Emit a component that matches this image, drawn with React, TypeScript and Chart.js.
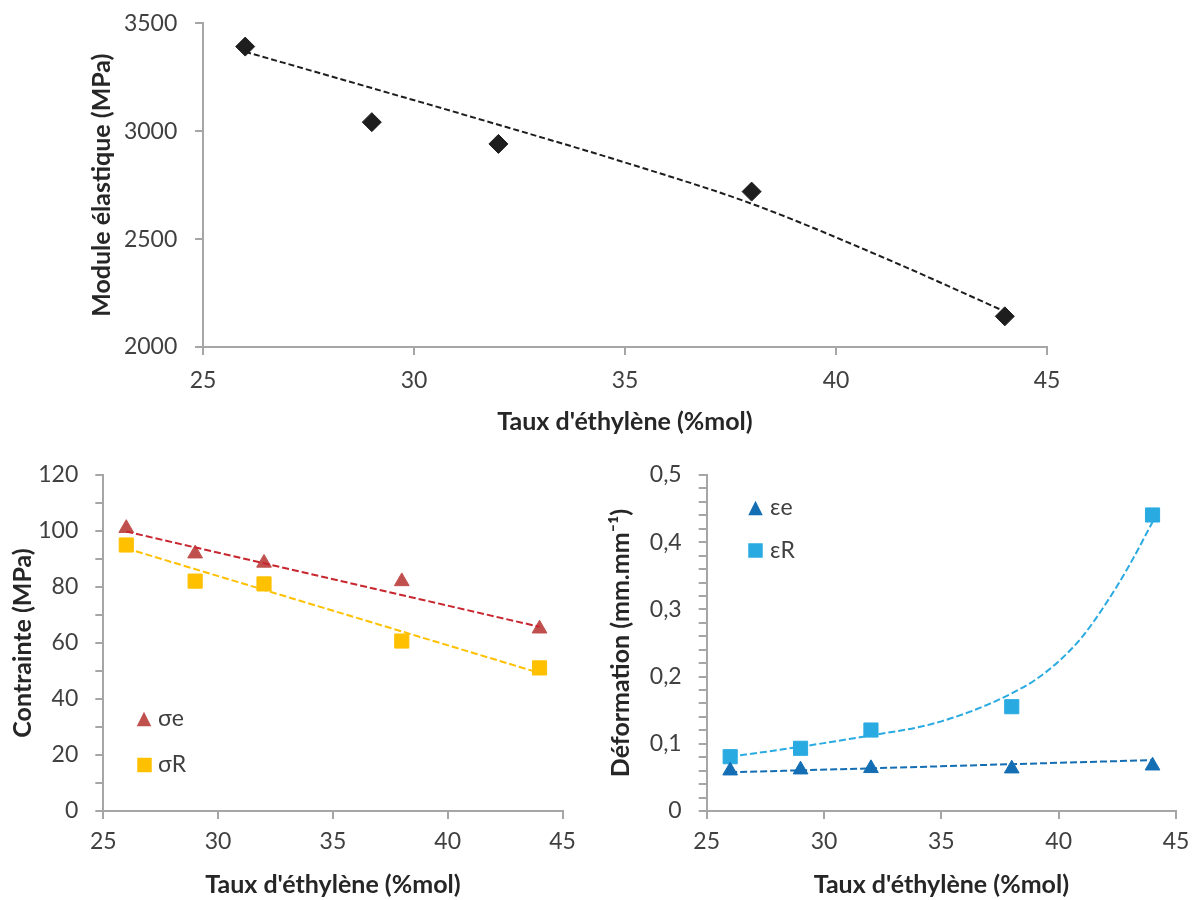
import React, { useEffect, useRef } from 'react';
import { Chart, registerables } from 'chart.js';

Chart.register(...registerables);

const FONT = 'Lato, "Open Sans", sans-serif';
const AXIS = '#A6A6A6';
const TICK_COLOR = '#404040';
const TITLE_COLOR = '#262626';
const TITLE_SIZE = 25;
const TICK_SIZE = 23;

// ---------- Data ----------
const ethylene = [26, 29, 32, 38, 44];
const xTicksLabel = "Taux d'éthylène (%mol)";

// Top chart: Module élastique
const moduleValues = [3392, 3042, 2941, 2720, 2142];
const moduleTrendX = [26, 29, 32, 35, 38, 41, 44];
const moduleTrendY = [3368, 3200, 3030, 2855, 2664, 2425, 2165];

// Bottom-left: Contrainte
const sigmaE = [101, 91.9, 88.6, 82, 65.1];
const sigmaR = [95, 82.1, 81.1, 60.7, 51.1];
const sigmaTrendX = [26, 44];
const sigmaETrend = [99.8, 65.8];
const sigmaRTrend = [93.8, 49.3];

// Bottom-right: Déformation
const epsE = [0.06, 0.0615, 0.0635, 0.063, 0.0674];
const epsR = [0.0808, 0.0933, 0.1205, 0.1552, 0.4405];
const epsETrendX = [26, 32, 38, 44];
const epsETrend = [0.0576, 0.0635, 0.0697, 0.0757];
const epsRTrendX = [26, 28, 30, 32, 34, 35, 36, 37, 38, 39, 40, 41, 42, 43, 44];
const epsRTrend = [0.0808, 0.0905, 0.101, 0.1125, 0.1245, 0.1334, 0.1449, 0.1587, 0.1751, 0.1951, 0.2227, 0.259, 0.308, 0.365, 0.43];

const pts = (xs: number[], ys: number[]) => xs.map((x, i) => ({ x, y: ys[i] }));

// ---------- Helpers ----------
function xAxis(height: number, tickPad: number, titlePadBottom: number) {
  return {
    type: 'linear',
    position: 'bottom',
    min: 25,
    max: 45,
    ticks: {
      stepSize: 5,
      padding: tickPad,
      color: TICK_COLOR,
      font: { family: FONT, size: TICK_SIZE },
      maxRotation: 0,
      autoSkip: false,
    },
    grid: { drawOnChartArea: false, drawTicks: true, tickLength: 8, color: AXIS, lineWidth: 2 },
    border: { display: true, color: AXIS, width: 2 },
    title: {
      display: true,
      text: xTicksLabel,
      color: TITLE_COLOR,
      font: { family: FONT, size: TITLE_SIZE, weight: 'bold' },
      padding: { top: 0, bottom: titlePadBottom },
    },
    afterFit: (s: any) => {
      s.height = height;
      s.paddingLeft = 0;
      s.paddingRight = 0;
      s.paddingTop = 0;
      s.paddingBottom = 0;
    },
  };
}

function yAxis(
  width: number,
  min: number,
  max: number,
  step: number,
  tickPad: number,
  title: string,
  titlePadTop: number,
  cb: (v: number) => string
) {
  return {
    type: 'linear',
    position: 'left',
    min,
    max,
    ticks: {
      stepSize: step,
      padding: tickPad,
      color: TICK_COLOR,
      font: { family: FONT, size: TICK_SIZE },
      autoSkip: false,
      callback: (v: any) => cb(Number(v)),
    },
    grid: { drawOnChartArea: false, drawTicks: true, tickLength: 8, color: AXIS, lineWidth: 2 },
    border: { display: true, color: AXIS, width: 2 },
    title: {
      display: true,
      text: title,
      color: TITLE_COLOR,
      font: { family: FONT, size: TITLE_SIZE, weight: 'bold' },
      padding: { top: titlePadTop, bottom: 0 },
    },
    afterFit: (s: any) => {
      s.width = width;
      s.paddingLeft = 0;
      s.paddingRight = 0;
      s.paddingTop = 0;
      s.paddingBottom = 0;
    },
  };
}

type LegendItem = { label: string; shape: 'triangle' | 'square'; color: string; cx: number; cy: number; size: number; tx: number };

function legendPlugin(items: LegendItem[]) {
  return {
    id: 'customLegend',
    afterDraw(chart: any) {
      const ctx = chart.ctx as CanvasRenderingContext2D;
      ctx.save();
      items.forEach((it) => {
        ctx.fillStyle = it.color;
        ctx.beginPath();
        const h = it.size / 2;
        if (it.shape === 'triangle') {
          ctx.moveTo(it.cx, it.cy - h);
          ctx.lineTo(it.cx + h, it.cy + h);
          ctx.lineTo(it.cx - h, it.cy + h);
          ctx.closePath();
        } else {
          ctx.rect(it.cx - h, it.cy - h, it.size, it.size);
        }
        ctx.fill();
        ctx.fillStyle = TICK_COLOR;
        ctx.font = `${TICK_SIZE}px ${FONT}`;
        ctx.textAlign = 'left';
        ctx.textBaseline = 'middle';
        ctx.fillText(it.label, it.tx, it.cy);
      });
      ctx.restore();
    },
  };
}

function markerSet(label: string, ys: number[], color: string, style: string, radius: number) {
  return {
    label,
    data: pts(ethylene, ys),
    showLine: false,
    pointStyle: style,
    pointRadius: radius,
    pointHoverRadius: radius,
    backgroundColor: color,
    borderColor: color,
    pointBorderWidth: 1,
    order: 2,
  };
}

function trendSet(xs: number[], ys: number[], color: string, dash: number[], curved: boolean) {
  return {
    label: 'trend',
    data: pts(xs, ys),
    showLine: true,
    pointRadius: 0,
    borderColor: color,
    borderWidth: 2,
    borderDash: dash,
    cubicInterpolationMode: curved ? 'monotone' : 'default',
    fill: false,
    order: 1,
  };
}

function ChartCanvas({ width, height, left, top, make }: { width: number; height: number; left: number; top: number; make: () => any }) {
  const ref = useRef<HTMLCanvasElement | null>(null);
  useEffect(() => {
    if (!ref.current) return;
    const chart = new Chart(ref.current, make());
    return () => chart.destroy();
  }, []);
  return (
    <canvas
      ref={ref}
      width={width}
      height={height}
      style={{ position: 'absolute', left, top, width, height }}
    />
  );
}

const baseOptions = {
  responsive: false,
  animation: false,
  plugins: { legend: { display: false }, tooltip: { enabled: false }, title: { display: false } },
};

function makeTop() {
  return {
    type: 'scatter',
    data: {
      datasets: [
        markerSet('Module', moduleValues, '#1E1E1E', 'rectRot', 9.5),
        trendSet(moduleTrendX, moduleTrendY, '#1E1E1E', [6, 3], true),
      ],
    },
    options: {
      ...baseOptions,
      layout: { padding: { left: 0, top: 23.3, right: 150, bottom: 0 } },
      scales: {
        x: xAxis(103, 12.2, 13),
        y: yAxis(203, 2000, 3500, 500, 17.7, 'Module élastique (MPa)', 87, (v) => String(v)),
      },
    },
  };
}

function makeLeft() {
  return {
    type: 'scatter',
    data: {
      datasets: [
        markerSet('σe', sigmaE, '#C0504D', 'triangle', 8.5),
        markerSet('σR', sigmaR, '#FFC000', 'rect', 10),
        trendSet(sigmaTrendX, sigmaETrend, '#C8262F', [7, 3], false),
        trendSet(sigmaTrendX, sigmaRTrend, '#FFC000', [7, 3], false),
      ],
    },
    options: {
      ...baseOptions,
      layout: { padding: { left: 0, top: 25, right: 37.5, bottom: 0 } },
      scales: {
        x: xAxis(89, 9.2, 0),
        y: yAxis(103.3, 0, 120, 10, 17, 'Contrainte (MPa)', 8, (v) => (Math.round(v) % 20 === 0 ? String(Math.round(v)) : '')),
      },
    },
    plugins: [
      legendPlugin([
        { label: 'σe', shape: 'triangle', color: '#C0504D', cx: 144, cy: 269, size: 14.5, tx: 158 },
        { label: 'σR', shape: 'square', color: '#FFC000', cx: 144.5, cy: 315, size: 14.5, tx: 158 },
      ]),
    ],
  };
}

function makeRight() {
  return {
    type: 'scatter',
    data: {
      datasets: [
        markerSet('εe', epsE, '#146EB4', 'triangle', 8.5),
        markerSet('εR', epsR, '#29ABE2', 'rect', 10),
        trendSet(epsETrendX, epsETrend, '#146EB4', [7, 3], true),
        trendSet(epsRTrendX, epsRTrend, '#29ABE2', [7, 3], true),
      ],
    },
    options: {
      ...baseOptions,
      layout: { padding: { left: 0, top: 25, right: 21, bottom: 0 } },
      scales: {
        x: xAxis(89, 9.2, 0),
        y: yAxis(106.7, 0, 0.5, 0.02, 17, 'Déformation (mm.mm⁻¹)', 6, (v) => {
          const k = Math.round(v * 100);
          if (k % 10 !== 0) return '';
          return k === 0 ? '0' : (k / 100).toFixed(1).replace('.', ',');
        }),
      },
    },
    plugins: [
      legendPlugin([
        { label: 'εe', shape: 'triangle', color: '#146EB4', cx: 155.5, cy: 58, size: 14.5, tx: 170 },
        { label: 'εR', shape: 'square', color: '#29ABE2', cx: 155.5, cy: 100.5, size: 14.5, tx: 170 },
      ]),
    ],
  };
}

export default function App() {
  return (
    <div style={{ position: 'absolute', left: 0, top: 0, width: 1197, height: 900, background: '#fff' }}>
      <ChartCanvas left={0} top={0} width={1197} height={450} make={makeTop} />
      <ChartCanvas left={0} top={450} width={600} height={450} make={makeLeft} />
      <ChartCanvas left={600} top={450} width={597} height={450} make={makeRight} />
    </div>
  );
}
